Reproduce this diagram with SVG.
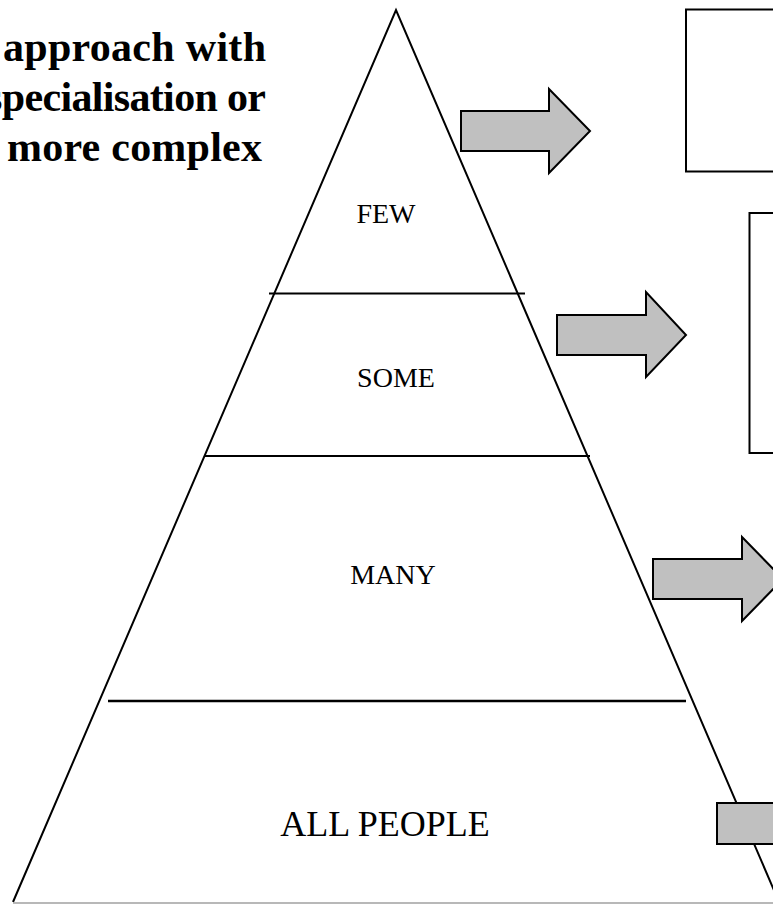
<svg xmlns="http://www.w3.org/2000/svg" width="773" height="904" viewBox="0 0 773 904">
<style>
.ln{stroke:#000;stroke-width:2;fill:none}
.arrow{fill:#c0c0c0;stroke:#000;stroke-width:2;stroke-linejoin:miter}
.box{fill:#fff;stroke:#000;stroke-width:2}
.lbl{font-family:"Liberation Serif","Times New Roman",serif;font-size:28px;fill:#000;text-anchor:middle}
.title{font-family:"Liberation Serif","Times New Roman",serif;font-size:42px;font-weight:bold;fill:#000}
</style>
<rect width="773" height="904" fill="#fff"/>
<g id="heading">
<text class="title" x="3" y="61" textLength="263">approach with</text>
<text class="title" x="-14" y="111" textLength="280">specialisation or</text>
<text class="title" x="7" y="161" textLength="255">more complex</text>
</g>
<g id="pyramid">
<polyline class="ln" points="13,902 396,10 779,902"/>
<line x1="13" y1="903" x2="773" y2="903" stroke="#a0a0a0" stroke-width="1.5"/>
<line class="ln" x1="269" y1="293.5" x2="525" y2="293.5"/>
<line class="ln" x1="204" y1="456" x2="590" y2="456"/>
<line class="ln" x1="108" y1="701" x2="686" y2="701" style="stroke-width:2.5"/>
</g>
<g id="few"><text class="lbl" x="386" y="223">FEW</text></g>
<g id="some"><text class="lbl" x="396" y="387">SOME</text></g>
<g id="many"><text class="lbl" x="393" y="584">MANY</text></g>
<g id="all"><text class="lbl" x="385" y="836" style="font-size:36px">ALL PEOPLE</text></g>
<g id="box1"><rect class="box" x="686" y="9.5" width="100" height="162"/></g>
<g id="box2"><rect class="box" x="749.5" y="213" width="60" height="240"/></g>
<g id="connectors">
<polygon class="arrow" points="461,111 549,111 549,89 590,131 549,173 549,151 461,151"/>
<polygon class="arrow" points="557,315 646,315 646,292 686,335 646,377 646,355 557,355"/>
<polygon class="arrow" points="653,559 742,559 742,537 783,579 742,621 742,599 653,599"/>
<polygon class="arrow" points="717,803 806,803 806,781 847,823 806,865 806,844 717,844"/>
</g>
</svg>
